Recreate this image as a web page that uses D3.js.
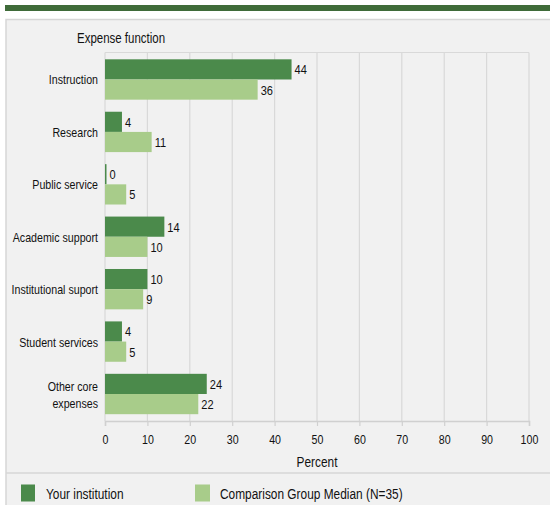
<!DOCTYPE html>
<html>
<head>
<meta charset="utf-8">
<script src="https://cdn.jsdelivr.net/npm/d3@7"></script>
<style>
    body { margin: 0; background: #fff; }
    svg { display: block; font-family: "Liberation Sans", Arial, sans-serif; }
</style>
</head>
<body>
<div id="chart"></div>
<script>
const categories = ["Instruction", "Research", "Public service", "Academic support", "Institutional suport", "Student services", "Other core expenses"];
const seriesNames = ["Your institution", "Comparison Group Median (N=35)"];
const yourInstitution = [44, 4, 0, 14, 10, 4, 24];
const comparisonMedian = [36, 11, 5, 10, 9, 5, 22];
const xTicks = [0, 10, 20, 30, 40, 50, 60, 70, 80, 90, 100];

const colors = ["#4b8a4b", "#a8cc8a"];
const narrow = 0.82; // no narrow font installed, squeeze the regular one

let width = 550;
let height = 505;

let svg = d3.select("#chart")
    .append("svg")
    .attr("width", width)
    .attr("height", height);

// text placed at (x, y) and squeezed horizontally
function addText(parent, x, y, size, str, anchor) {
    return parent.append("text")
        .attr("transform", `translate(${x}, ${y}) scale(${narrow}, 1)`)
        .attr("text-anchor", anchor || "start")
        .attr("font-size", size + "px")
        .attr("fill", "#111")
        .text(str);
}

// green banner on top
svg.append("rect")
    .attr("x", 5).attr("y", 5)
    .attr("width", width - 5).attr("height", 6)
    .attr("fill", "#3f6b39");

// panel
svg.append("rect")
    .attr("x", 6).attr("y", 19.5)
    .attr("width", width).attr("height", height)
    .attr("fill", "#f1f1f1")
    .attr("stroke", "#d6d6d6")
    .attr("stroke-width", 1.5);

svg.append("line")
    .attr("x1", 6).attr("x2", width)
    .attr("y1", 473).attr("y2", 473)
    .attr("stroke", "#d6d6d6")
    .attr("stroke-width", 1.5);

addText(svg, 77, 43, 14, "Expense function");

let plotLeft = 105, plotRight = 529, plotTop = 52.5, plotBottom = 421;

let xScale = d3.scaleLinear()
    .domain([0, 100])
    .range([plotLeft, plotRight]);

let yScale = d3.scaleBand()
    .domain(categories)
    .range([plotTop, plotBottom])
    .paddingInner(0.23)
    .paddingOuter(0.13);

let subScale = d3.scaleBand()
    .domain([0, 1])
    .range([0, yScale.bandwidth()]);

// grid
svg.append("g")
    .selectAll("line")
    .data(xTicks)
    .join("line")
    .attr("x1", d => xScale(d))
    .attr("x2", d => xScale(d))
    .attr("y1", plotTop)
    .attr("y2", plotBottom)
    .attr("stroke", "#d9d9d9")
    .attr("stroke-width", 1.2);

svg.append("line")
    .attr("x1", plotLeft).attr("x2", plotRight)
    .attr("y1", plotTop).attr("y2", plotTop)
    .attr("stroke", "#d9d9d9")
    .attr("stroke-width", 1.2);

// x axis
let xAxis = svg.append("g")
    .attr("transform", `translate(0, ${plotBottom})`)
    .call(d3.axisBottom(xScale).tickValues(xTicks).tickSize(5).tickPadding(9));

xAxis.select(".domain").attr("stroke", "#d0d0d0").attr("stroke-width", 1.5);
xAxis.selectAll(".tick line").attr("stroke", "#d0d0d0").attr("stroke-width", 1.2);
xAxis.selectAll(".tick text")
    .attr("font-size", "13px")
    .attr("font-family", "Liberation Sans, Arial, sans-serif")
    .attr("fill", "#111")
    .attr("transform", `scale(${narrow}, 1)`);

addText(svg, (plotLeft + plotRight) / 2, 467, 14.5, "Percent", "middle");

// category labels
categories.forEach((c) => {
    let cy = yScale(c) + yScale.bandwidth() / 2;
    if (c === "Other core expenses") {
        addText(svg, 98, cy - 3, 13, "Other core", "end");
        addText(svg, 98, cy + 14, 13, "expenses", "end");
    } else {
        addText(svg, 98, cy + 5, 13, c, "end");
    }
});

// bars
let series = [yourInstitution, comparisonMedian];
series.forEach((vals, s) => {
    let g = svg.append("g");
    g.selectAll("rect")
        .data(vals)
        .join("rect")
        .attr("x", xScale(0))
        .attr("y", (d, i) => yScale(categories[i]) + subScale(s))
        .attr("width", d => Math.max(xScale(d) - xScale(0), 1.5))
        .attr("height", subScale.bandwidth())
        .attr("fill", colors[s]);

    vals.forEach((d, i) => {
        let tx = Math.max(xScale(d), xScale(0) + 1.5) + 3;
        let ty = yScale(categories[i]) + subScale(s) + subScale.bandwidth() / 2 + 5;
        addText(g, tx, ty, 13.5, d);
    });
});

// legend
let legendX = [21, 195];
let legendW = [14, 15];
seriesNames.forEach((name, i) => {
    svg.append("rect")
        .attr("x", legendX[i])
        .attr("y", 484.5)
        .attr("width", legendW[i])
        .attr("height", 17)
        .attr("fill", colors[i]);
    addText(svg, legendX[i] + 25, 498.5, 14.5, name);
});
</script>
</body>
</html>
